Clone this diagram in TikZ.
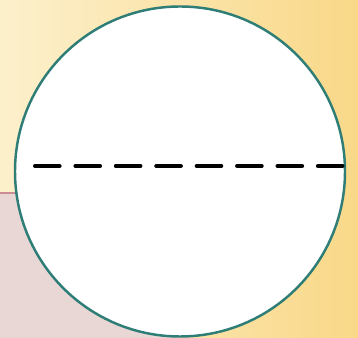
\documentclass[tikz,border=0pt]{standalone}
\usepackage{tkz-euclide}
\usetikzlibrary{calc}
\definecolor{BgLeftClr}{RGB}{252,240,204}
\definecolor{BgRightClr}{RGB}{249,216,136}
\definecolor{PinkClr}{RGB}{233,215,214}
\definecolor{RimClr}{RGB}{204,140,150}
\definecolor{ShapeClr}{RGB}{46,125,118}

\begin{document}
\begin{tikzpicture}
\useasboundingbox (0,0) rectangle (7.16,6.76);
\shade[left color=BgLeftClr,right color=BgRightClr] (0,0) rectangle (7.16,6.76);

\tkzDefPoints{3.6/3.33/O,6.9/3.33/P,0.7/3.44/L,6.92/3.44/R}
\tkzDefPoints{0/0/Q1,3.6/2.9/Q2,0/2.9/Q3}

\fill[PinkClr] (Q1) rectangle (Q2);
\draw[RimClr,line width=1.2pt] (Q3) -- (Q2);

\tkzFillCircle[fill=white](O,P)
\tkzDrawCircle[color=ShapeClr,line width=1.4pt](O,P)

\tkzDrawSegment[line width=2.3pt,dash pattern=on 14pt off 9pt](L,R)

\end{tikzpicture}
\end{document}
